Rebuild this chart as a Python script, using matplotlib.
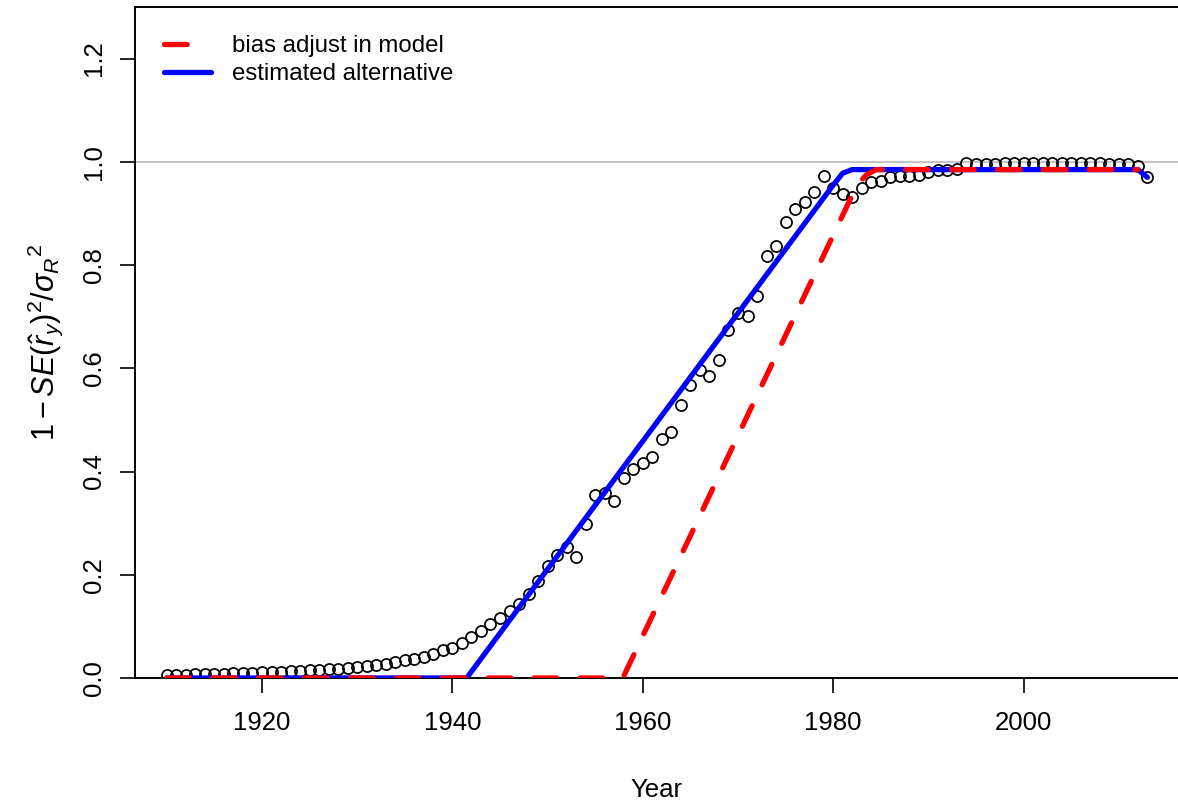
import matplotlib
matplotlib.use("Agg")
import matplotlib.pyplot as plt
from matplotlib.lines import Line2D
import numpy as np

# ---- data ----
years = np.arange(1910, 2014)
observed = [
    0.005, 0.006, 0.006, 0.007, 0.007, 0.008, 0.008, 0.009, 0.009, 0.010,   # 1910-1919
    0.011, 0.011, 0.012, 0.013, 0.014, 0.015, 0.016, 0.017, 0.018, 0.020,   # 1920-1929
    0.022, 0.024, 0.026, 0.028, 0.031, 0.034, 0.037, 0.041, 0.047, 0.054,   # 1930-1939
    0.059, 0.068, 0.079, 0.092, 0.104, 0.116, 0.129, 0.144, 0.162, 0.188,   # 1940-1949
    0.217, 0.239, 0.253, 0.235, 0.299, 0.355, 0.358, 0.342, 0.388, 0.404,   # 1950-1959
    0.417, 0.428, 0.464, 0.476, 0.528, 0.568, 0.596, 0.586, 0.617, 0.675,   # 1960-1969
    0.707, 0.701, 0.740, 0.818, 0.836, 0.883, 0.908, 0.923, 0.941, 0.972,   # 1970-1979
    0.950, 0.938, 0.931, 0.949, 0.960, 0.962, 0.970, 0.973, 0.973, 0.974,   # 1980-1989
    0.981, 0.985, 0.985, 0.987, 0.997, 0.996, 0.996, 0.996, 0.997, 0.997,   # 1990-1999
    0.997, 0.997, 0.998, 0.997, 0.997, 0.997, 0.997, 0.997, 0.997, 0.996,   # 2000-2009
    0.996, 0.995, 0.992, 0.970,                                             # 2010-2013
]

alt_years = [1910, 1941.5, 1980, 1981, 1982, 2012, 2013]
alt_vals = [0.0, 0.0, 0.955, 0.978, 0.985, 0.985, 0.970]

bias_years = [1910, 1957.9, 1982.5, 1983.5, 1984.5, 2012]
bias_vals = [0.0, 0.0, 0.955, 0.975, 0.985, 0.985]

legend_labels = ["bias adjust in model", "estimated alternative"]
xticks = [1920, 1940, 1960, 1980, 2000]
yticks = [0.0, 0.2, 0.4, 0.6, 0.8, 1.0, 1.2]

# ---- style ----
plt.rcParams["font.family"] = ["Liberation Sans", "DejaVu Sans"]
plt.rcParams["mathtext.fontset"] = "custom"
plt.rcParams["mathtext.rm"] = "Liberation Sans"
plt.rcParams["mathtext.it"] = "Liberation Sans:italic"
plt.rcParams["mathtext.sf"] = "Liberation Sans"

W, H = 1178, 807
fig = plt.figure(figsize=(W / 100, H / 100), dpi=100)
ax = fig.add_axes([135 / W, 1 - 678 / H, 1 - 135 / W, (678 - 7) / H])

ax.axhline(1.0, color="#b4b4b4", lw=1.1, zorder=1)

ax.plot(years, observed, ls="none", marker="o", ms=8.0, mfc="none",
        mec="black", mew=1.25, zorder=2)

blue, = ax.plot(alt_years, alt_vals, color="#0000ff", lw=3.8,
                solid_capstyle="round", solid_joinstyle="round", zorder=3)
red, = ax.plot(bias_years, bias_vals, color="#ff0000", lw=3.8,
               ls=(0, (4.3, 4.4)), dash_capstyle="round",
               dash_joinstyle="round", zorder=4)

ax.set_xlim(1906.66, 2016.22)
ax.set_ylim(0, 1.3)
ax.set_xticks(xticks)
ax.set_xticklabels([str(t) for t in xticks])
ax.set_yticks(yticks)
ax.set_yticklabels([f"{t:.1f}" for t in yticks], rotation=90, va="center")

ax.tick_params(axis="both", direction="out", length=11, width=1.2,
               labelsize=18.5, color="black")
ax.tick_params(axis="x", pad=13)
ax.tick_params(axis="y", pad=10)

for s in ["left", "top", "bottom"]:
    ax.spines[s].set_linewidth(1.4)
ax.spines["right"].set_visible(False)

ax.set_xlabel("Year", fontsize=18.5, labelpad=31)
ax.set_ylabel(r"$1-SE(\hat{r}_y)^2/\sigma_R{}^2$", fontsize=22, labelpad=12)

# legend proxies (red shows a single dash, as in the reference)
red_h = Line2D([], [], color="#ff0000", lw=3.8, ls=(0, (4.3, 12)),
               dash_capstyle="round")
blue_h = Line2D([], [], color="#0000ff", lw=3.8, solid_capstyle="round")
leg = ax.legend([red_h, blue_h], legend_labels, loc="upper left",
                bbox_to_anchor=(29 / (W - 135), 1 - 28 / 671), frameon=False,
                fontsize=17.3, handlelength=1.95, handletextpad=0.9,
                labelspacing=0.27, borderaxespad=0, borderpad=0)

fig.savefig("out.png", dpi=100)
